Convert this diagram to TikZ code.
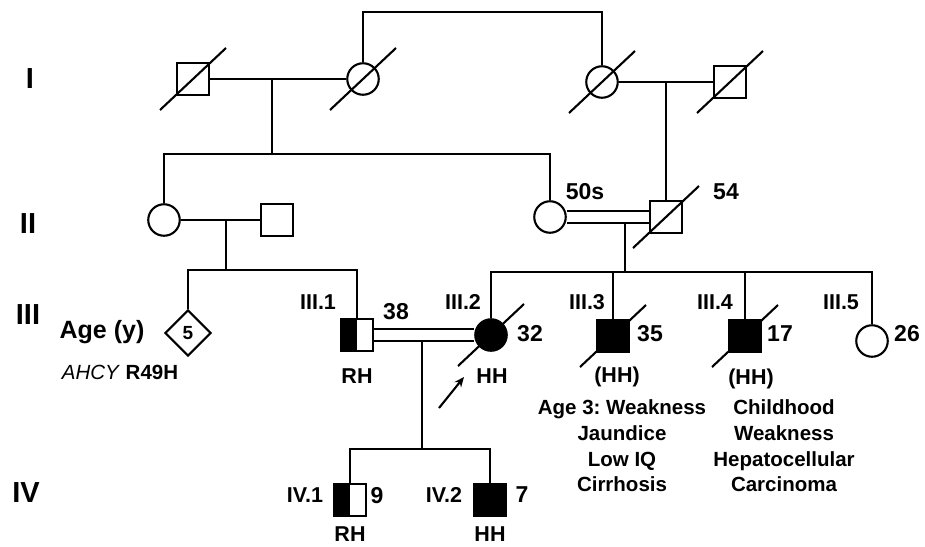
\documentclass[tikz,border=0pt]{standalone}
\usepackage{fontspec}
\setmainfont{Liberation Sans}
\usetikzlibrary{shapes.geometric,arrows.meta}
\frenchspacing

\tikzset{
  male/.style={draw, rectangle, minimum size=31.5pt, inner sep=0pt, fill=white},
  female/.style={draw, circle, minimum size=31.5pt, inner sep=0pt, fill=white},
  unknown/.style={draw, diamond, minimum size=46pt, inner sep=0pt, fill=white,
    font=\fontsize{19}{19}\selectfont\bfseries},
  affected/.style={fill=black},
  carrier/.style={path picture={\fill[black] (path picture bounding box.south west)
    rectangle (path picture bounding box.north);}},
  dbl/.style={double, double distance=9.3pt},
  gen/.style={font=\fontsize{29}{29}\selectfont\bfseries, text height=21pt, text depth=0pt},
  lbl/.style={font=\fontsize{21.5}{21.5}\selectfont\bfseries, text height=15.5pt, text depth=0pt, inner sep=0pt},
  age/.style={font=\fontsize{23}{23}\selectfont\bfseries, text height=16.5pt, text depth=0pt, inner sep=0pt},
  desc/.style={font=\fontsize{20.5}{25.7}\selectfont\bfseries, align=center, inner sep=0pt},
}

\begin{document}
\begin{tikzpicture}[x=1pt, y=-1pt, line width=2.1pt, >=Stealth]
\useasboundingbox (0,0) rectangle (925,546);

% generation labels
\node[gen] (gI) at (30,78) {I};
\node[gen] (gII) at (28,223) {II};
\node[gen] (gIII) at (28,314) {III};
\node[gen] (gIV) at (26,492) {IV};

% generation I
\node[male] (I1) at (193,79) {};
\node[female] (I2) at (363,79) {};
\node[female] (I3) at (602,82) {};
\node[male] (I4) at (730,82) {};

% generation II
\node[female] (II1) at (164,220) {};
\node[male] (II2) at (277,220) {};
\node[female] (II3) at (550,217) {};
\node[male] (II4) at (666,217) {};

% generation III
\node[unknown] (III0) at (188,333) {5};
\node[male, carrier] (III1) at (357,335) {};
\node[female, affected] (III2) at (491,335) {};
\node[male, affected] (III3) at (613,336) {};
\node[male, affected] (III4) at (745,336) {};
\node[female] (III5) at (872,341) {};

% generation IV
\node[male, carrier] (IV1) at (350,500) {};
\node[male, affected] (IV2) at (490,500) {};

% matings
\draw (I1) -- (I2);
\draw (I3) -- (I4);
\draw (II1) -- (II2);
\draw[dbl] (II3) -- (II4);
\draw[dbl] (III1) -- (III2);

% descent lines
\coordinate (top) at (480,12);
\draw (I2.north) |- (top) -| (I3.north);

\coordinate (m1) at (272,79);
\coordinate (s1) at (272,154);
\draw (m1) -- (s1);
\draw (II1.north) |- (s1) -| (II3.north);

\draw (II4.north) -- (II4.north |- I4.center);

\coordinate (m2) at (226,220);
\coordinate (s2) at (226,270);
\draw (m2) -- (s2);
\draw (III0.north) |- (s2) -| (III1.north);

\coordinate (m3) at (625,222.7);
\coordinate (s3) at (625,272);
\draw (m3) -- (s3);
\draw (III2.north) |- (s3) -| (III5.north);
\draw (III3.north) -- (III3.north |- s3);
\draw (III4.north) -- (III4.north |- s3);

\coordinate (m4) at (422,340.7);
\coordinate (s4) at (422,449);
\draw (m4) -- (s4);
\draw (IV1.north) |- (s4) -| (IV2.north);

% deceased
\foreach \n in {I1,I2,I3,I4,II4,III2,III3,III4}
  \draw ([shift={(-33,31)}]\n.center) -- ([shift={(33,-31)}]\n.center);

% proband
\coordinate (arrtail) at (439,408);
\coordinate (arrhead) at (464,377);
\draw[-{Stealth[length=10pt,width=8.5pt]}] (arrtail) -- (arrhead);

% ages and ids
\node[age] (a50) at (585,191) {50s};
\node[age] (a54) at (726,191) {54};
\node[lbl] (nIII1) at (318,302) {III.1};
\node[age] (a38) at (396,311) {38};
\node[lbl] (nIII2) at (463,302) {III.2};
\node[age] (a32) at (530,333) {32};
\node[lbl] (nIII3) at (587,302) {III.3};
\node[age] (a35) at (650,333) {35};
\node[lbl] (nIII4) at (715,302) {III.4};
\node[age] (a17) at (780,333) {17};
\node[lbl] (nIII5) at (841,302) {III.5};
\node[age] (a26) at (907,333) {26};
\node[lbl] (nIV1) at (305,495) {IV.1};
\node[age] (a9) at (377,495) {9};
\node[lbl] (nIV2) at (444,495) {IV.2};
\node[age] (a7) at (522,494) {7};

% genotypes
\node[lbl] (gtIII1) at (357,376) {RH};
\node[lbl] (gtIII2) at (492,376) {HH};
\node[lbl] (gtIII3) at (617,375) {(HH)};
\node[lbl] (gtIII4) at (751,377) {(HH)};
\node[lbl] (gtIV1) at (350,534) {RH};
\node[lbl] (gtIV2) at (490,534) {HH};

% key
\node[age, font=\fontsize{25}{25}\selectfont\bfseries, text height=18pt] (key) at (102,329) {Age (y)};
\node[lbl, font=\fontsize{20.5}{20.5}\selectfont, text height=14.5pt] (gene) at (120,372) {\textit{AHCY} \textbf{R49H}};

% clinical notes
\node[desc] (notes3) at (622,446) {Age 3: Weakness\\Jaundice\\Low IQ\\Cirrhosis};
\node[desc] (notes4) at (784,446) {Childhood\\Weakness\\Hepatocellular\\Carcinoma};
\end{tikzpicture}
\end{document}
